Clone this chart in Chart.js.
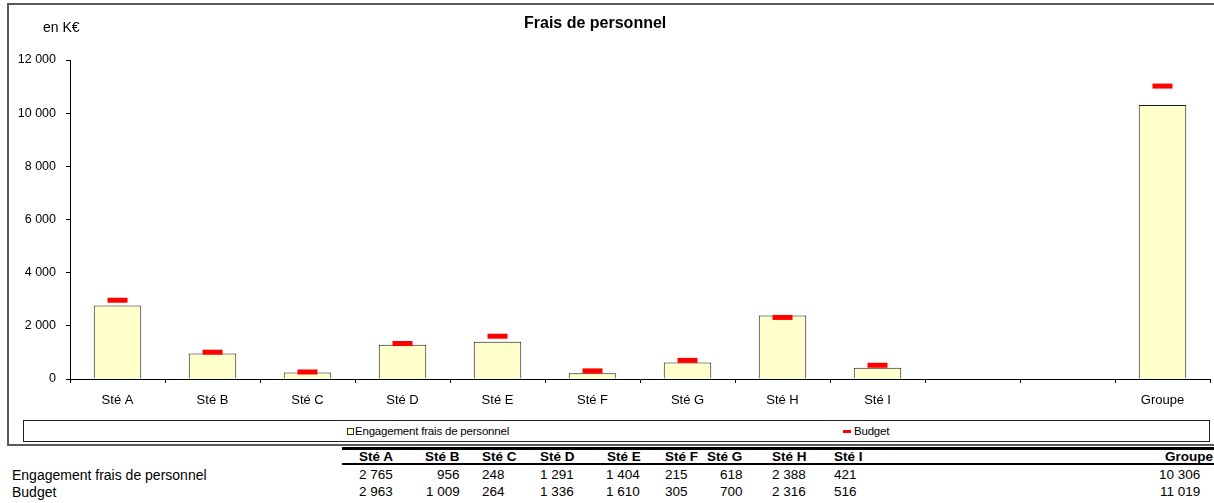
<!DOCTYPE html>
<html>
<head>
<meta charset="utf-8">
<script src="https://cdn.jsdelivr.net/npm/chart.js@4.4.1/dist/chart.umd.min.js"></script>
<style>
  html, body { margin: 0; padding: 0; background: #fff; }
  body { width: 1214px; height: 503px; position: relative; overflow: hidden;
         font-family: "Liberation Sans", Arial, sans-serif; color: #000; }
  #frame { position: absolute; left: 7px; top: 3px; width: 1220px; height: 439px;
           border: 2px solid #5a5a5a; box-sizing: content-box; }
  #chart { position: absolute; left: 0; top: 0; }
  .txt { position: absolute; white-space: nowrap; line-height: 1; }
  #title { font-weight: bold; font-size: 16px; }
  #unit { font-size: 14px; }
  #legend { position: absolute; left: 23px; top: 420px; width: 1187px; height: 22px;
            border: 1px solid #222; box-sizing: border-box; background: #fff; }
  .lg { position: absolute; font-size: 11.5px; letter-spacing: -0.2px; top: 4px; }
  .sw { position: absolute; width: 5px; height: 5px; top: 7px;
        background: #ffffcc; border: 1px solid #333; }
  .dash { position: absolute; width: 8px; height: 3px; top: 9px; background: #ff0000; }
  .rule { position: absolute; left: 342px; width: 880px; background: #000; }
  .cell { position: absolute; font-size: 13.5px; white-space: nowrap; line-height: 1; }
  .hd { font-weight: bold; }
  .rowlab { font-size: 14px; }
</style>
</head>
<body>
<div id="frame"></div>
<canvas id="chart" width="1214" height="418"></canvas>
<div id="title" class="txt">Frais de personnel</div>
<div id="unit" class="txt">en K€</div>
<div id="legend"></div>
<div id="table"></div>
<script>
// Companies and their personnel costs (K€)
const companies = ["Sté A", "Sté B", "Sté C", "Sté D", "Sté E", "Sté F", "Sté G", "Sté H", "Sté I"];
const groupLabel = "Groupe";
const categories = [...companies, "", "", groupLabel];

const engagementName = "Engagement frais de personnel";
const budgetName = "Budget";

const engagementCompanies = [2765, 956, 248, 1291, 1404, 215, 618, 2388, 421];
const budgetCompanies = [2963, 1009, 264, 1336, 1610, 305, 700, 2316, 516];
const engagementGroup = 10306;
const budgetGroup = 11019;

const yTicks = [0, 2000, 4000, 6000, 8000, 10000, 12000];

// Series along the category axis (two empty slots before the group total)
const engagementSeries = [...engagementCompanies, null, null, engagementGroup];
const budgetSeries = [...budgetCompanies, null, null, budgetGroup];

function fmt(v) {
  return String(v).replace(/\B(?=(\d{3})+(?!\d))/g, " ");
}

const FONT = "'Liberation Sans', Arial, sans-serif";

new Chart(document.getElementById("chart"), {
  type: "bar",
  data: {
    labels: categories,
    datasets: [
      {
        type: "bar",
        label: engagementName,
        data: engagementSeries,
        backgroundColor: "#ffffcc",
        borderColor: "#1a1a1a",
        borderWidth: 1,
        categoryPercentage: 1,
        barPercentage: 0.5,
        order: 2
      },
      {
        type: "line",
        label: budgetName,
        data: budgetSeries,
        showLine: false,
        pointStyle: "line",
        pointRadius: 10,
        pointHoverRadius: 10,
        pointBorderWidth: 5,
        pointHoverBorderWidth: 5,
        borderColor: "#ff0000",
        backgroundColor: "#ff0000",
        order: 1
      }
    ]
  },
  options: {
    responsive: false,
    animation: false,
    devicePixelRatio: 1,
    layout: { autoPadding: false, padding: { left: 0, right: 4, top: 60, bottom: 9 } },
    plugins: { legend: { display: false }, tooltip: { enabled: false }, title: { display: false } },
    scales: {
      x: {
        offset: true,
        grid: { offset: true, drawOnChartArea: false, drawTicks: true, tickLength: 4, color: "#000", lineWidth: 1 },
        border: { display: true, color: "#000", width: 1 },
        ticks: { color: "#000", font: { family: FONT, size: 13 }, padding: 10, maxRotation: 0, autoSkip: false },
        afterFit: (s) => { s.height = 30; }
      },
      y: {
        min: 0,
        max: 12000,
        afterBuildTicks: (s) => { s.ticks = yTicks.map(v => ({ value: v })); },
        grid: { drawOnChartArea: false, drawTicks: true, tickLength: 4, color: "#000", lineWidth: 1 },
        border: { display: true, color: "#000", width: 1 },
        ticks: { color: "#000", font: { family: FONT, size: 12.5 }, padding: 10, callback: (v) => fmt(v) },
        afterFit: (s) => { s.width = 70; }
      }
    }
  }
});

// Title and unit
const title = document.getElementById("title");
title.style.top = "15px";
title.style.left = (595 - title.offsetWidth / 2) + "px";
const unit = document.getElementById("unit");
unit.style.left = "43px"; unit.style.top = "20px";

// Legend strip
const legend = document.getElementById("legend");
legend.innerHTML =
  '<div class="sw" style="left:323px"></div>' +
  '<div class="lg" style="left:331px">' + engagementName + '</div>' +
  '<div class="dash" style="left:819px"></div>' +
  '<div class="lg" style="left:830px">' + budgetName + '</div>';

// Summary table under the chart
const table = document.getElementById("table");
const colPos = [
  { hx: 393, ha: "r", vx: 393, va: "r" },
  { hx: 460, ha: "r", vx: 460, va: "r" },
  { hx: 482, ha: "l", vx: 482, va: "l" },
  { hx: 540, ha: "l", vx: 540, va: "l" },
  { hx: 607, ha: "l", vx: 606, va: "l" },
  { hx: 665, ha: "l", vx: 665, va: "l" },
  { hx: 707, ha: "l", vx: 743, va: "r" },
  { hx: 772, ha: "l", vx: 772, va: "l" },
  { hx: 834, ha: "l", vx: 834, va: "l" },
  { hx: 1213, ha: "r", vx: 1200, va: "r" }
];
const headers = [...companies, groupLabel];
const row1 = [...engagementCompanies, engagementGroup];
const row2 = [...budgetCompanies, budgetGroup];

function place(text, x, align, y, cls) {
  const d = document.createElement("div");
  d.className = "cell " + (cls || "");
  d.textContent = text;
  d.style.top = y + "px";
  table.appendChild(d);
  if (align === "r") d.style.left = (x - d.offsetWidth) + "px";
  else d.style.left = x + "px";
}
function rule(y, h) {
  const d = document.createElement("div");
  d.className = "rule";
  d.style.top = y + "px"; d.style.height = h + "px";
  table.appendChild(d);
}
rule(447, 3);
rule(463, 2);
headers.forEach((h, i) => place(h, colPos[i].hx, colPos[i].ha, 450, "hd"));
row1.forEach((v, i) => place(fmt(v), colPos[i].vx, colPos[i].va, 468));
row2.forEach((v, i) => place(fmt(v), colPos[i].vx, colPos[i].va, 485));
place(engagementName, 12, "l", 468, "rowlab");
place(budgetName, 12, "l", 485, "rowlab");
</script>
</body>
</html>
